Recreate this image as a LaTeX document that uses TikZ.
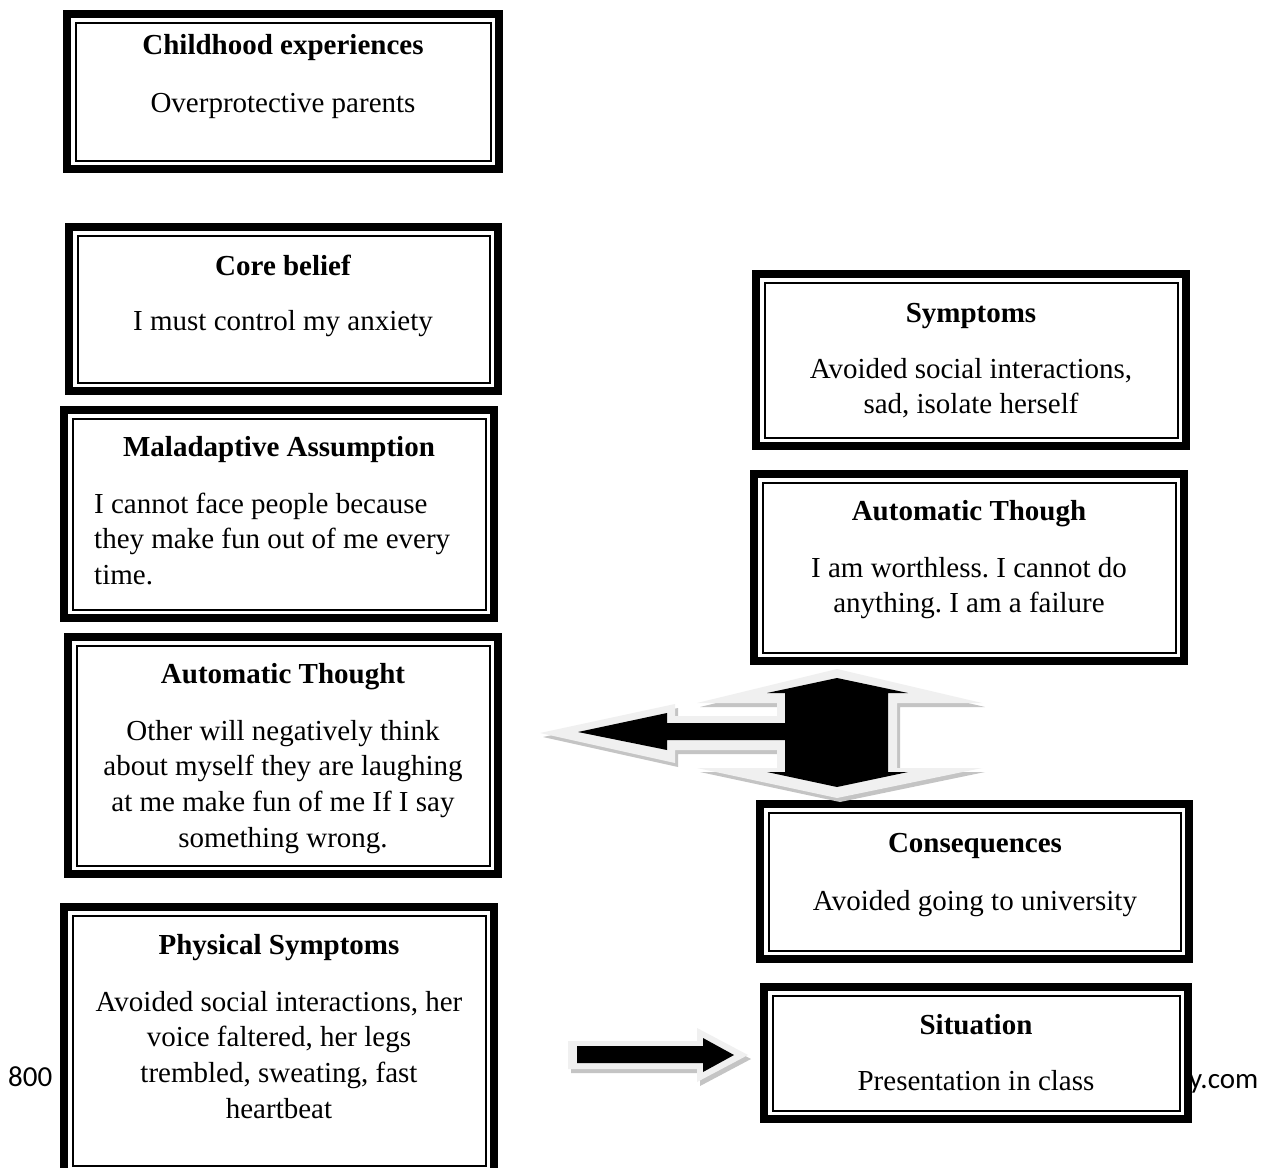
\documentclass[tikz,border=0pt]{standalone}
\usepackage{fontspec}
\setmainfont{Liberation Serif}
\newfontfamily\footfont{Carlito}
\usetikzlibrary{calc}
\definecolor{bevel}{HTML}{F0F0F0}
\definecolor{bshadow}{HTML}{C4C4C4}
\frenchspacing
\tikzset{
  cbox/.style={draw, line width=8.3pt, fill=white, inner sep=0pt, outer sep=0pt,
    path picture={\draw[line width=2pt]
      ($(path picture bounding box.north west)+(8.35,8.35)$) rectangle
      ($(path picture bounding box.south east)+(-8.35,-8.35)$);}},
  ttl/.style={inner sep=0pt, anchor=base, font=\fontsize{29}{35.8}\selectfont\bfseries},
  bdy/.style={inner sep=0pt, anchor=base, font=\fontsize{29}{35.8}\selectfont},
  foot/.style={inner sep=0pt, anchor=base west, font=\footfont\fontsize{29}{33}\selectfont},
}
\newcommand{\mybox}[5]{%
  \node[cbox, minimum width={#4-#2-8.3}, minimum height={#5-#3-8.3}]
    (#1) at ({(#2+#4)/2},{(#3+#5)/2}) {};}
\begin{document}
\begin{tikzpicture}[x=1pt, y=-1pt]
\useasboundingbox (0,0) rectangle (1270,1168);
\fill[white] (0,0) rectangle (1270,1168);

% footer fragments (partly hidden behind the boxes)
\node[foot] (pagenum) at (8,1086) {800};
\node[foot] (web) at (1189,1088) {y.com};

% boxes
\mybox{childhood}{63}{10}{503}{173}
\mybox{core}{65}{223}{502}{395}
\mybox{malad}{60}{406}{498}{622}
\mybox{autoL}{64}{633}{502}{878}
\mybox{phys}{60}{903}{498}{1178}
\mybox{symp}{752}{270}{1190}{450}
\mybox{autoR}{750}{470}{1188}{665}
\mybox{cons}{756}{800}{1193}{963}
\mybox{sit}{760}{983}{1192}{1123}

% texts
\node[ttl] (childhoodT) at (283,54) {Childhood experiences};
\node[bdy] (childhoodB) at (283,112) {Overprotective parents};

\node[ttl] (coreT) at (283,275) {Core belief};
\node[bdy] (coreB) at (283,330) {I must control my anxiety};

\node[ttl] (maladT) at (279,456) {Maladaptive Assumption};
\node[bdy, anchor=base west] (maladB) at (94,513)
  {\begin{tabular}[t]{@{}l@{}}I cannot face people because\\they make fun out of me every\\time.\end{tabular}};

\node[ttl] (autoLT) at (283,683) {Automatic Thought};
\node[bdy] (autoLB) at (283,740)
  {\begin{tabular}[t]{@{}c@{}}Other will negatively think\\about myself they are laughing\\at me make fun of me If I say\\something wrong.\end{tabular}};

\node[ttl] (physT) at (279,954) {Physical Symptoms};
\node[bdy] (physB) at (279,1011)
  {\begin{tabular}[t]{@{}c@{}}Avoided social interactions, her\\voice faltered, her legs\\trembled, sweating, fast\\heartbeat\end{tabular}};

\node[ttl] (sympT) at (971,322) {Symptoms};
\node[bdy] (sympB) at (971,378)
  {\begin{tabular}[t]{@{}c@{}}Avoided social interactions,\\sad, isolate herself\end{tabular}};

\node[ttl] (autoRT) at (969,520) {Automatic Though};
\node[bdy] (autoRB) at (969,577)
  {\begin{tabular}[t]{@{}c@{}}I am worthless. I cannot do\\anything. I am a failure\end{tabular}};

\node[ttl] (consT) at (975,852) {Consequences};
\node[bdy] (consB) at (975,910) {Avoided going to university};

\node[ttl] (sitT) at (976,1034) {Situation};
\node[bdy] (sitB) at (976,1090) {Presentation in class};

% central three-way arrow (bevelled clip-art)
\def\outerarrow{(540,733) -- (675,704) -- (675,716) -- (777,716) -- (777,703) -- (697,703) -- (837,669) -- (982,703) -- (897,703) -- (897,768) -- (982,768) -- (837,798) -- (697,768) -- (777,768) -- (777,750) -- (675,750) -- (675,763) -- cycle}
\fill[bshadow, shift={(3pt,-4pt)}] \outerarrow;
\fill[bevel] \outerarrow;
\fill[black] (578,732) -- (667,713) -- (667,723) -- (785,723) -- (785,693) -- (767,693) -- (837,678) -- (908,693) -- (888,693) -- (888,772) -- (908,772) -- (837,787) -- (767,772) -- (785,772) -- (785,740) -- (667,740) -- (667,750) -- cycle;

% bottom right arrow
\def\outerright{(568,1041) -- (697,1041) -- (697,1028) -- (748,1055) -- (697,1082) -- (697,1069) -- (568,1069) -- cycle}
\fill[bshadow, shift={(3pt,-4pt)}] \outerright;
\fill[bevel] \outerright;
\fill[black] (577,1046) -- (703,1046) -- (703,1038) -- (734,1055) -- (703,1072) -- (703,1063) -- (577,1063) -- cycle;
\end{tikzpicture}
\end{document}
